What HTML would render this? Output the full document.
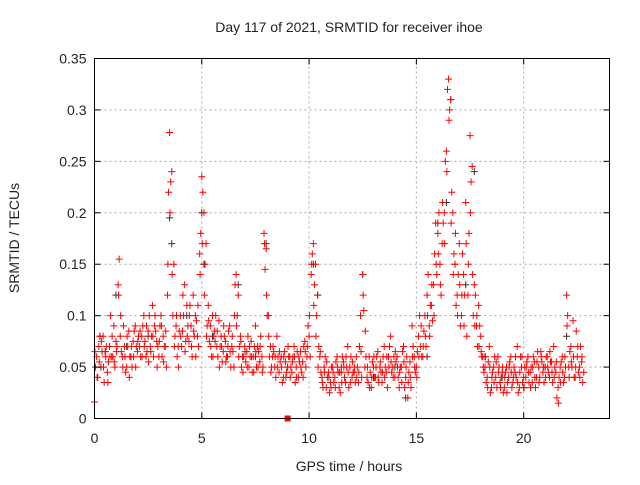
<!DOCTYPE html>
<html><head><meta charset="utf-8"><style>
body{margin:0;background:#fff}
svg text{font-family:"Liberation Sans",sans-serif;font-size:14px;fill:#222}
</style></head><body>
<svg id="chart" width="640" height="480" xmlns="http://www.w3.org/2000/svg">
<text x="349" y="32" text-anchor="middle">Day 117 of 2021, SRMTID for receiver ihoe</text>
<text x="349" y="471" text-anchor="middle">GPS time / hours</text>
<text transform="translate(19,238) rotate(-90)" text-anchor="middle">SRMTID / TECUs</text>
<g id="grid"></g><g id="pts"></g><g id="axes"></g>
</svg>
<script>
const xTicks=[0,5,10,15,20];
const yTicks=[0,0.05,0.1,0.15,0.2,0.25,0.3,0.35];
const yTickLabels=["0","0.05","0.1","0.15","0.2","0.25","0.3","0.35"];
const startA=0, stepA=0.1;
const seriesA=[0.016,0.06,0.07,0.05,0.08,0.065,0.045,0.07,0.06,0.09,0.075,
0.13,0.08,0.06,0.07,0.05,0.085,0.06,0.075,0.09,0.065,
0.07,0.08,0.1,0.06,0.085,0.07,0.11,0.09,0.075,0.06,
0.1,0.08,0.07,0.12,0.278,0.24,0.15,0.09,0.07,0.1,
0.085,0.13,0.11,0.075,0.09,0.12,0.1,0.08,0.16,0.235,
0.2,0.17,0.11,0.09,0.1,0.085,0.07,0.095,0.08,0.065,
0.075,0.06,0.09,0.07,0.05,0.14,0.12,0.08,0.06,0.07,
0.065,0.05,0.075,0.06,0.09,0.07,0.055,0.06,0.18,0.165,
0.1,0.07,0.06,0.05,0.08,0.045,0.06,0.04,0.055,0.05,
0.06,0.045,0.07,0.05,0.04,0.065,0.055,0.075,0.06,0.08,
0.14,0.17,0.15,0.12,0.06,0.04,0.05,0.03,0.045,0.035,
0.05,0.04,0.06,0.03,0.045,0.055,0.035,0.07,0.05,0.04,
0.045,0.06,0.035,0.1,0.14,0.05,0.04,0.06,0.03,0.05,
0.04,0.065,0.05,0.035,0.07,0.045,0.06,0.08,0.05,0.04,
0.06,0.03,0.05,0.07,0.04,0.02,0.055,0.09,0.06,0.05,
0.08,0.07,0.06,0.1,0.12,0.09,0.11,0.13,0.19,0.18,
0.15,0.17,0.2,0.26,0.33,0.31,0.2,0.15,0.12,0.17,
0.1,0.14,0.21,0.12,0.275,0.245,0.13,0.09,0.11,0.08,
0.06,0.05,0.04,0.07,0.03,0.05,0.04,0.06,0.035,0.045,
0.03,0.05,0.04,0.06,0.035,0.045,0.07,0.03,0.05,0.04,
0.04,0.06,0.045,0.035,0.055,0.04,0.05,0.065,0.045,0.05,
0.06,0.04,0.055,0.07,0.045,0.03,0.05,0.06,0.04,0.12,
0.05,0.07,0.095,0.04,0.06,0.05,0.055,0.045];
const startB=0.05, stepB=0.1;
const seriesB=[0.05,0.04,0.08,0.065,0.035,0.07,0.055,0.1,0.06,0.05,0.07,
0.155,0.065,0.09,0.045,0.07,0.06,0.05,0.085,0.07,0.08,
0.06,0.09,0.075,0.065,0.1,0.08,0.06,0.085,0.07,0.09,
0.06,0.07,0.05,0.22,0.23,0.1,0.08,0.06,0.085,0.07,
0.1,0.075,0.09,0.11,0.06,0.08,0.095,0.07,0.18,0.22,
0.15,0.09,0.075,0.06,0.08,0.1,0.06,0.07,0.055,0.08,
0.06,0.085,0.05,0.065,0.13,0.1,0.07,0.05,0.06,0.055,
0.08,0.06,0.045,0.07,0.05,0.065,0.08,0.05,0.145,0.1,
0.06,0.05,0.065,0.04,0.06,0.055,0.035,0.065,0.045,0.06,
0.05,0.06,0.035,0.065,0.055,0.045,0.07,0.05,0.09,0.06,
0.16,0.13,0.1,0.07,0.045,0.03,0.06,0.04,0.025,0.05,
0.035,0.055,0.045,0.025,0.06,0.04,0.05,0.03,0.06,0.045,
0.035,0.05,0.07,0.04,0.105,0.06,0.035,0.045,0.055,0.04,
0.06,0.035,0.045,0.06,0.05,0.03,0.07,0.045,0.06,0.055,
0.04,0.05,0.065,0.03,0.06,0.045,0.03,0.07,0.045,0.065,
0.1,0.06,0.085,0.07,0.14,0.11,0.095,0.16,0.14,0.2,
0.12,0.19,0.25,0.32,0.3,0.22,0.16,0.11,0.14,0.09,
0.16,0.12,0.08,0.18,0.23,0.1,0.12,0.07,0.09,0.06,
0.045,0.035,0.055,0.025,0.045,0.06,0.03,0.05,0.04,0.025,
0.045,0.035,0.055,0.03,0.05,0.04,0.025,0.06,0.035,0.05,
0.055,0.035,0.05,0.06,0.03,0.065,0.04,0.055,0.035,0.06,
0.045,0.055,0.035,0.05,0.02,0.04,0.055,0.035,0.05,0.1,
0.065,0.05,0.04,0.085,0.045,0.07,0.035];
const startC=0.02, stepC=0.1;
const seriesC=[0.065,0.04,0.055,0.075,0.05,0.06,0.035,0.06,0.08,0.055,0.065,
0.12,0.1,0.05,0.06,0.08,0.04,0.07,0.06,0.05,0.075,
0.085,0.06,0.07,0.09,0.055,0.065,0.08,0.1,0.05,0.075,
0.09,0.055,0.085,0.15,0.2,0.14,0.07,0.1,0.05,0.08,
0.12,0.065,0.08,0.1,0.07,0.085,0.06,0.11,0.14,0.17,
0.12,0.08,0.095,0.07,0.06,0.075,0.085,0.05,0.07,0.09,
0.055,0.07,0.065,0.08,0.1,0.09,0.06,0.075,0.045,0.065,
0.05,0.07,0.06,0.045,0.065,0.05,0.07,0.045,0.17,0.12,
0.08,0.045,0.07,0.06,0.05,0.065,0.05,0.06,0.04,0.07,
0.04,0.055,0.06,0.04,0.06,0.05,0.04,0.065,0.07,0.1,
0.15,0.11,0.08,0.05,0.065,0.035,0.045,0.055,0.04,0.03,
0.045,0.03,0.05,0.045,0.035,0.05,0.06,0.045,0.035,0.055,
0.05,0.04,0.045,0.065,0.12,0.085,0.05,0.03,0.04,0.06,
0.05,0.04,0.055,0.045,0.04,0.06,0.05,0.055,0.04,0.065,
0.05,0.045,0.035,0.055,0.05,0.035,0.04,0.06,0.05,0.04,
0.06,0.09,0.07,0.08,0.1,0.08,0.13,0.1,0.15,0.16,
0.13,0.21,0.17,0.24,0.29,0.19,0.14,0.18,0.1,0.13,
0.12,0.09,0.17,0.15,0.2,0.14,0.09,0.1,0.07,0.065,
0.05,0.06,0.03,0.05,0.04,0.035,0.055,0.045,0.03,0.05,
0.04,0.025,0.05,0.045,0.04,0.06,0.035,0.045,0.06,0.03,
0.05,0.045,0.03,0.05,0.04,0.055,0.035,0.06,0.05,0.04,
0.05,0.065,0.045,0.04,0.055,0.015,0.035,0.045,0.06,0.09,
0.04,0.055,0.06,0.05,0.07,0.04,0.06];
const blackX=[0.3,0.5,1.0,1.5,2.5,3.5,3.6,4.3,5.0,5.1,5.5,6.7,7.5,8.0,9.0,10.2,10.4,11.5,12.5,13.0,14.0,14.5,15.5,16.0,16.4,16.6,16.8,17.3,17.7,18.2,19.0,20.0,21.0,22.0];
const blackY=[0.05,0.065,0.12,0.07,0.08,0.195,0.17,0.1,0.2,0.15,0.08,0.13,0.06,0.17,0.05,0.15,0.12,0.05,0.14,0.04,0.05,0.02,0.06,0.19,0.21,0.31,0.15,0.13,0.24,0.06,0.04,0.03,0.05,0.08];
const extraX=[0.25,9.0];
const extraY=[0.08,0];

const X0=94.5,X1=609.5,Y0=418.5,Y1=58.5;
const sx=v=>X0+(v/24)*(X1-X0);
const sy=v=>Y0-(v/0.35)*(Y0-Y1);
const NS="http://www.w3.org/2000/svg";
function mk(tag,attrs,parent){const e=document.createElementNS(NS,tag);for(const k in attrs)e.setAttribute(k,attrs[k]);parent.appendChild(e);return e;}
const grid=document.getElementById('grid'),axes=document.getElementById('axes'),pts=document.getElementById('pts');
yTicks.forEach((t,i)=>{
  const y=sy(t);
  if(i>0&&i<yTicks.length-1){const g=mk('line',{x1:X0,x2:X1,y1:y,y2:y,stroke:'#aaa','stroke-dasharray':'2,3'},grid);
  
  }
  mk('line',{x1:X0,x2:X0+6,y1:y,y2:y,stroke:'#000'},axes);
  mk('line',{x1:X1,x2:X1-6,y1:y,y2:y,stroke:'#000'},axes);
  const tx=mk('text',{x:X0-8,y:y+5,'text-anchor':'end'},axes);tx.textContent=yTickLabels[i];
  
  
});
xTicks.forEach(t=>{
  const x=sx(t);
  if(t>0){const g=mk('line',{x1:x,x2:x,y1:Y0,y2:Y1,stroke:'#aaa','stroke-dasharray':'2,3'},grid);
  
  }
  mk('line',{x1:x,x2:x,y1:Y0,y2:Y0-6,stroke:'#000'},axes);
  mk('line',{x1:x,x2:x,y1:Y1,y2:Y1+6,stroke:'#000'},axes);
  const tx=mk('text',{x:x,y:443,'text-anchor':'middle'},axes);tx.textContent=String(t);
  
  
});
const fr=mk('rect',{x:X0,y:Y1,width:X1-X0,height:Y0-Y1,fill:'none',stroke:'#000'},axes);


function plus(x,y,c,name){
  const p=mk('path',{d:`M${x-3.5},${y}h7M${x},${y-3.5}v7`,stroke:c,'stroke-width':1,fill:'none'},pts);
  
  
}
blackX.forEach((x,i)=>plus(sx(x),sy(blackY[i]),'#333','point-black'));
[[seriesA,startA,stepA],[seriesB,startB,stepB],[seriesC,startC,stepC]].forEach(([s,st,sp])=>{
  s.forEach((v,i)=>{const t=st+i*sp;if(t<=22.85)plus(sx(t),sy(v),'#f00','point-red');});
});
extraX.forEach((x,i)=>{
  if(extraY[i]===0){const r=mk('rect',{x:sx(x)-3,y:sy(0)-3,width:6,height:6,fill:'#f00'},pts);
    
    }
  else plus(sx(x),sy(extraY[i]),'#f00','point-red');
});
</script>
</body></html>
